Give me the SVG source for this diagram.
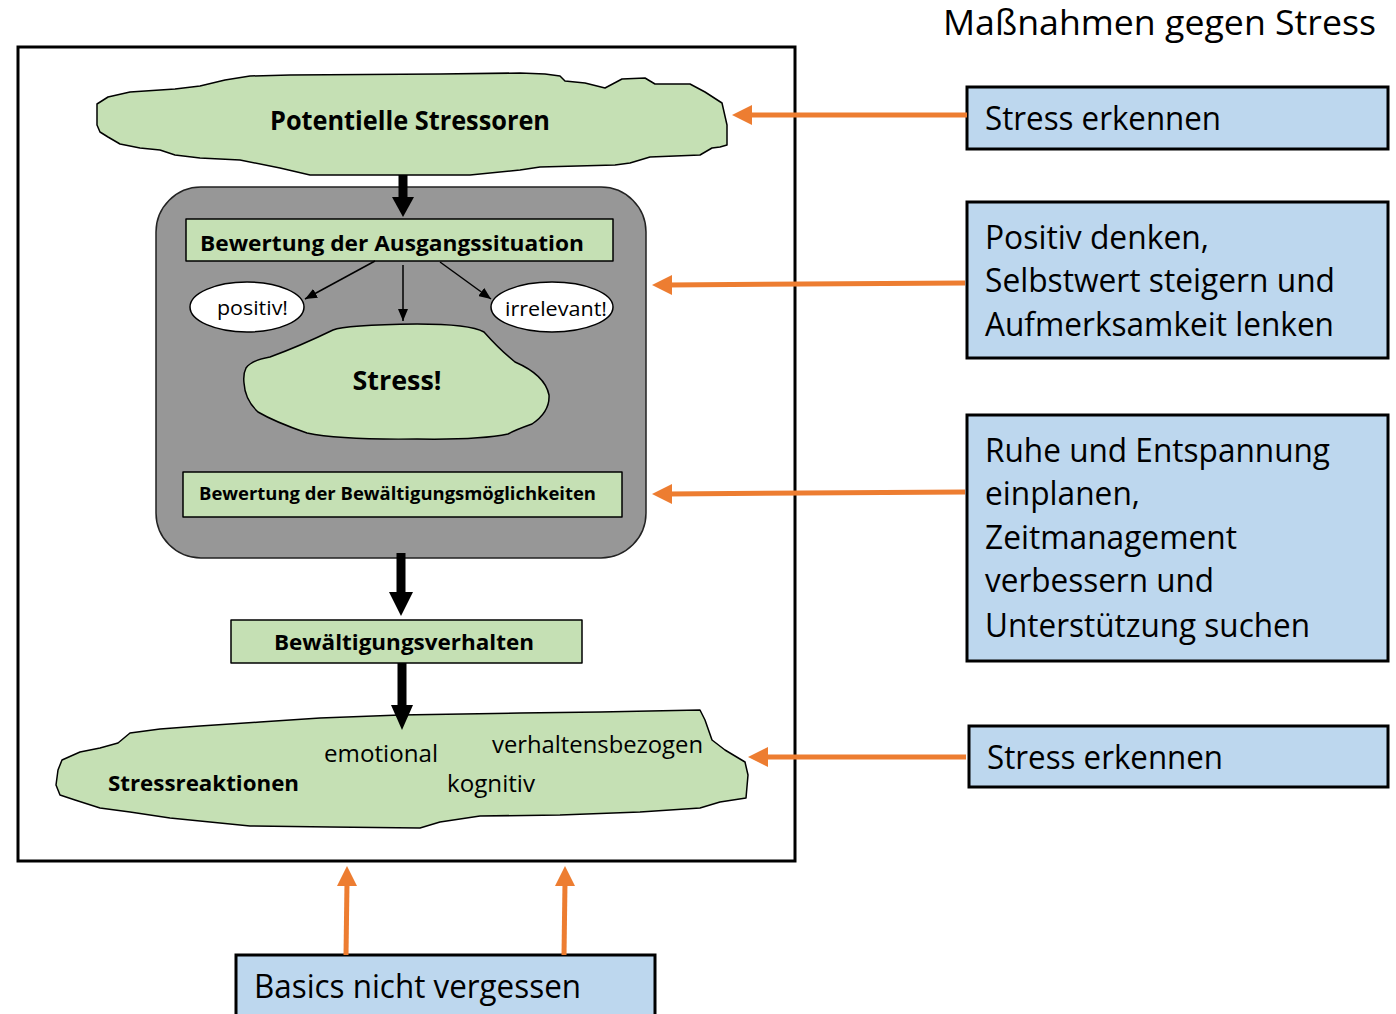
<svg xmlns="http://www.w3.org/2000/svg" width="1396" height="1014" viewBox="0 0 1396 1014">
  <style>
    text { font-family: "Open Sans", "Noto Sans", "Liberation Sans", sans-serif; fill: #000; }
    .b { font-weight: bold; }
    .green { fill: #c5e0b4; stroke: #000; stroke-width: 1.5; stroke-linejoin: round; }
    .blue { fill: #bdd7ee; stroke: #000; stroke-width: 3; }
    .oline { stroke: #ed7d31; stroke-width: 5; fill: none; }
    .ohead { fill: #ed7d31; }
    .thin { stroke: #000; stroke-width: 1.5; fill: none; marker-end: url(#thinHead); }
    .big { stroke: #000; stroke-width: 9; fill: none; }
    .r { font-size: 32px; }
  </style>
  <defs>
    <marker id="thinHead" viewBox="0 0 12 10" refX="12" refY="5" markerWidth="12" markerHeight="10" markerUnits="userSpaceOnUse" orient="auto">
      <path d="M0,0 L12,5 L0,10 Z" fill="#000"/>
    </marker>
  </defs>

  <rect width="1396" height="1014" fill="#fff"/>

  <text x="943" y="35" font-size="34" textLength="433" lengthAdjust="spacingAndGlyphs">Maßnahmen gegen Stress</text>

  <!-- outer frame of the stress model -->
  <rect id="frame" x="18" y="47" width="777" height="814" fill="none" stroke="#000" stroke-width="3"/>

  <g id="stressoren">
    <path class="green" d="M97,104 L108,97 L130,92 L175,89 L200,86 L225,80 L250,76 L290,75 L440,74 L520,73 L545,74 L560,76 L565,81 L585,83 L605,88 L622,79 L645,78 L655,84 L690,84 L705,92 L722,103 L727,125 L727,145 L720,147 L712,148 L700,155 L650,157 L630,163 L615,165 L540,167 L520,170 L470,175 L310,175 L280,168 L240,160 L200,158 L175,155 L160,150 L140,148 L120,144 L108,137 L100,132 L97,125 Z"/>
    <text class="b" x="410" y="130" font-size="27" text-anchor="middle" textLength="280" lengthAdjust="spacingAndGlyphs">Potentielle Stressoren</text>
  </g>

  <g id="bewertung-panel">
    <rect x="156" y="187" width="490" height="371" rx="45" fill="#979797" stroke="#222" stroke-width="1.5"/>
  </g>

  <g id="ausgangssituation">
    <rect class="green" x="186" y="219" width="427" height="42"/>
    <text class="b" x="200" y="251" font-size="22" textLength="384" lengthAdjust="spacingAndGlyphs">Bewertung der Ausgangssituation</text>
  </g>

  <g id="positiv">
    <ellipse cx="247" cy="307" rx="57" ry="25" fill="#fff" stroke="#000" stroke-width="1.5"/>
    <text x="217" y="315" font-size="20" textLength="71" lengthAdjust="spacingAndGlyphs">positiv!</text>
  </g>

  <g id="irrelevant">
    <ellipse cx="552" cy="307" rx="61" ry="25" fill="#fff" stroke="#000" stroke-width="1.5"/>
    <text x="505" y="316" font-size="20" textLength="102" lengthAdjust="spacingAndGlyphs">irrelevant!</text>
  </g>

  <g id="stress">
    <path class="green" d="M246,368 Q252,360 270,357 Q300,346 333,330 Q345,325 417,324 Q470,324 484,332 Q500,350 515,362 Q545,375 549,395 Q550,412 532,424 Q515,430 508,434 Q480,440 417,439 Q340,440 307,433 Q275,422 258,412 Q245,400 244,383 Q243,374 246,368 Z"/>
    <text class="b" x="397" y="390" font-size="27" text-anchor="middle" textLength="89" lengthAdjust="spacingAndGlyphs">Stress!</text>
  </g>

  <g id="bewaeltigungsmoeglichkeiten">
    <rect class="green" x="183" y="472" width="439" height="45"/>
    <text class="b" x="199" y="500" font-size="18" textLength="397" lengthAdjust="spacingAndGlyphs">Bewertung der Bewältigungsmöglichkeiten</text>
  </g>

  <g id="bewaeltigungsverhalten">
    <rect class="green" x="231" y="620" width="351" height="43"/>
    <text class="b" x="404" y="650" font-size="22" text-anchor="middle" textLength="260" lengthAdjust="spacingAndGlyphs">Bewältigungsverhalten</text>
  </g>

  <g id="stressreaktionen">
    <path class="green" d="M58,770 L62,760 L80,752 L100,748 L118,743 L130,733 L160,729 L200,726 L260,722 L320,718 L400,715 L520,713 L600,712 L700,710 L705,720 L712,740 L725,750 L745,762 L748,775 L746,798 L720,802 L700,808 L640,812 L560,815 L480,816 L440,822 L420,828 L330,827 L250,826 L210,822 L170,818 L130,812 L100,808 L75,800 L60,795 L56,785 Z"/>
    <text class="b" x="108" y="791" font-size="22" textLength="191" lengthAdjust="spacingAndGlyphs">Stressreaktionen</text>
    <text x="324" y="762" font-size="23" textLength="114" lengthAdjust="spacingAndGlyphs">emotional</text>
    <text x="492" y="753" font-size="23" textLength="211" lengthAdjust="spacingAndGlyphs">verhaltensbezogen</text>
    <text x="447" y="792" font-size="23" textLength="88" lengthAdjust="spacingAndGlyphs">kognitiv</text>
  </g>

  <g id="box-erkennen-1">
    <rect class="blue" x="967" y="87" width="421" height="62"/>
    <text class="r" x="985" y="130" textLength="236" lengthAdjust="spacingAndGlyphs">Stress erkennen</text>
  </g>

  <g id="box-positiv-denken">
    <rect class="blue" x="967" y="202" width="421" height="156"/>
    <text class="r" x="985" y="249" textLength="224" lengthAdjust="spacingAndGlyphs">Positiv denken,</text>
    <text class="r" x="985" y="292" textLength="350" lengthAdjust="spacingAndGlyphs">Selbstwert steigern und</text>
    <text class="r" x="985" y="336" textLength="349" lengthAdjust="spacingAndGlyphs">Aufmerksamkeit lenken</text>
  </g>

  <g id="box-ruhe">
    <rect class="blue" x="967" y="415" width="421" height="246"/>
    <text class="r" x="985" y="462" textLength="345" lengthAdjust="spacingAndGlyphs">Ruhe und Entspannung</text>
    <text class="r" x="985" y="505" textLength="155" lengthAdjust="spacingAndGlyphs">einplanen,</text>
    <text class="r" x="985" y="549" textLength="252" lengthAdjust="spacingAndGlyphs">Zeitmanagement</text>
    <text class="r" x="985" y="592" textLength="229" lengthAdjust="spacingAndGlyphs">verbessern und</text>
    <text class="r" x="985" y="637" textLength="325" lengthAdjust="spacingAndGlyphs">Unterstützung suchen</text>
  </g>

  <g id="box-erkennen-2">
    <rect class="blue" x="969" y="726" width="419" height="61"/>
    <text class="r" x="987" y="769" textLength="236" lengthAdjust="spacingAndGlyphs">Stress erkennen</text>
  </g>

  <g id="box-basics">
    <rect class="blue" x="236" y="955" width="419" height="64"/>
    <text class="r" x="254" y="998" textLength="327" lengthAdjust="spacingAndGlyphs">Basics nicht vergessen</text>
  </g>

  <g id="connectors">
    <!-- thick black flow arrows -->
    <line class="big" x1="403" y1="175" x2="403" y2="200"/>
    <polygon points="392,197 414,197 403,217" fill="#000"/>
    <line class="big" x1="401" y1="553" x2="401" y2="595"/>
    <polygon points="389,592 413,592 401,616" fill="#000"/>
    <line class="big" x1="402" y1="663" x2="402" y2="708"/>
    <polygon points="391,705 413,705 402,730" fill="#000"/>

    <!-- appraisal outcomes -->
    <line class="thin" x1="375" y1="261" x2="305" y2="299"/>
    <line class="thin" x1="403" y1="265" x2="403" y2="321"/>
    <line class="thin" x1="440" y1="262" x2="491" y2="299"/>

    <!-- orange intervention arrows -->
    <line class="oline" x1="967" y1="115" x2="748" y2="115"/>
    <polygon class="ohead" points="732,115 752,105 752,125"/>
    <line class="oline" x1="965" y1="283" x2="668" y2="285"/>
    <polygon class="ohead" points="652,285 672,275 672,295"/>
    <line class="oline" x1="965" y1="492" x2="668" y2="494"/>
    <polygon class="ohead" points="652,494 672,484 672,504"/>
    <line class="oline" x1="966" y1="757" x2="764" y2="757"/>
    <polygon class="ohead" points="748,757 768,747 768,767"/>
    <line class="oline" x1="346" y1="955" x2="347" y2="882"/>
    <polygon class="ohead" points="347,866 337,886 357,886"/>
    <line class="oline" x1="564" y1="955" x2="565" y2="882"/>
    <polygon class="ohead" points="565,866 555,886 575,886"/>
  </g>
</svg>
